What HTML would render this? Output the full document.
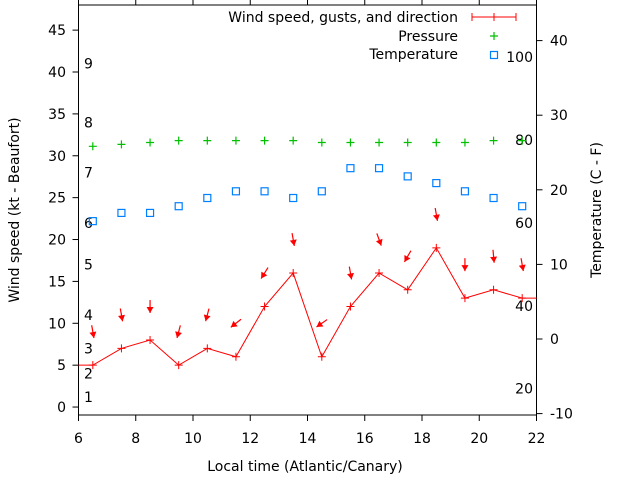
<!DOCTYPE html>
<html><head><meta charset="utf-8"><style>
body{margin:0;background:#fff}
svg text{font-family:"DejaVu Sans","Liberation Sans",sans-serif;font-size:14px;fill:#000}
</style></head><body>
<svg id="c" width="640" height="480" xmlns="http://www.w3.org/2000/svg"></svg>
<script>
const hours=[6.5,7.5,8.5,9.5,10.5,11.5,12.5,13.5,14.5,15.5,16.5,17.5,18.5,19.5,20.5,21.5];
const windSpeed=[5,7,8,5,7,6,12,16,6,12,16,14,19,13,14,13];
const windStart=5, windEnd=13;
const gusts=[9,11,12,9,11,10,16,20,10,16,20,18,23,17,18,17];
const windDir=[350,350,0,15,15,52,32,350,55,350,340,30,350,0,355,350];
const pressure=[1017,1018,1019,1020,1020,1020,1020,1020,1019,1019,1019,1019,1019,1019,1020,1020];
const temperature=[15.8,16.9,16.9,17.8,18.9,19.8,19.8,18.9,19.8,22.9,22.9,21.8,20.9,19.8,18.9,17.8];
const xTicks=[6,8,10,12,14,16,18,20,22];
const yLeftTicks=[0,5,10,15,20,25,30,35,40,45];
const yRightTicks=[-10,0,10,20,30,40];
const beaufortLabels=[[1,1.2],[2,4],[3,7],[4,11],[5,17],[6,22],[7,28],[8,34],[9,41]];
const fahrenheitLabels=[20,40,60,80,100];

const L=78.5,R=536.5,T=5,B=415;
const X=v=>L+(v-6)/(22-6)*(R-L);
const YL=v=>B-(v+0.95)/(48+0.95)*(B-T);
const YR=v=>339-v*7.46;
const YP=p=>146.3-(p-1017)*1.9;
const svg=document.getElementById('c');
const NS='http://www.w3.org/2000/svg';
function mk(tag,attrs,parent){const e=document.createElementNS(NS,tag);for(const k in attrs)e.setAttribute(k,attrs[k]);(parent||svg).appendChild(e);return e;}
function txt(s,x,y,anchor,name,extra){const t=mk('text',Object.assign({x:x,y:y,'text-anchor':anchor},extra||{}));t.textContent=s;


return t;}

const fr=mk('rect',{x:L,y:T,width:R-L,height:B-T,fill:'none',stroke:'#000','stroke-width':1});



xTicks.forEach(v=>{const x=X(v);
 const t=mk('line',{x1:x,x2:x,y1:B,y2:B+6,stroke:'#000'});
 
 
 const t2=mk('line',{x1:x,x2:x,y1:T,y2:T-5,stroke:'#000'});
 
 
 txt(String(v),x,443,'middle','x-tick-label');});
yLeftTicks.forEach(v=>{const y=YL(v);
 const t=mk('line',{x1:L-6,x2:L,y1:y,y2:y,stroke:'#000'});
 
 
 txt(String(v),66,y+5,'end','y-left-tick-label');});
yRightTicks.forEach(v=>{const y=YR(v);
 const t=mk('line',{x1:R,x2:R+6,y1:y,y2:y,stroke:'#000'});
 
 
 txt(String(v),550,y+5,'start','y-right-tick-label');});
beaufortLabels.forEach(b=>txt(String(b[0]),84,YL(b[1])+5,'start','beaufort-label'));
fahrenheitLabels.forEach(f=>txt(String(f),533,YR((f-32)*5/9)+5,'end','fahrenheit-label'));

txt('Local time (Atlantic/Canary)',305,471,'middle','x-axis-title');
txt('Wind speed (kt - Beaufort)',19,210,'middle','y-left-axis-title',{transform:'rotate(-90 19 210)'});
txt('Temperature (C - F)',601,210,'middle','y-right-axis-title',{transform:'rotate(-90 601 210)'});

let pts=[[X(6),YL(windStart)]];hours.forEach((h,i)=>pts.push([X(h),YL(windSpeed[i])]));pts.push([X(22),YL(windEnd)]);
const pl=mk('polyline',{points:pts.map(p=>p.join(',')).join(' '),fill:'none',stroke:'#f00','stroke-width':1});


hours.forEach((h,i)=>{const x=X(h),y=YL(windSpeed[i]);
 const p=mk('path',{d:`M${x-4},${y}H${x+4}M${x},${y-4}V${y+4}`,stroke:'#f00','stroke-width':1});
 
 });
hours.forEach((h,i)=>{const cx=X(h),cy=YL(gusts[i]);const a=windDir[i]*Math.PI/180;
 const dx=-Math.sin(a)*13,dy=Math.cos(a)*13;
 const x1=cx-dx/2,y1=cy-dy/2,x2=cx+dx/2,y2=cy+dy/2;
 const ux=dx/13,uy=dy/13;const hx=x2-ux*6,hy=y2-uy*6;
 const g=mk('g',{});
 
 
 mk('line',{x1:x1,y1:y1,x2:x2,y2:y2,stroke:'#f00','stroke-width':1.2},g);
 mk('polygon',{points:`${x2},${y2} ${hx-uy*3.5},${hy+ux*3.5} ${hx+uy*3.5},${hy-ux*3.5}`,fill:'#f00'},g);});
hours.forEach((h,i)=>{const x=X(h),y=YP(pressure[i]);
 const p=mk('path',{d:`M${x-4},${y}H${x+4}M${x},${y-4}V${y+4}`,stroke:'#00c000','stroke-width':1.2});
 
 });
hours.forEach((h,i)=>{const x=X(h),y=YR(temperature[i]);
 const r=mk('rect',{x:x-3.5,y:y-3.5,width:7,height:7,fill:'none',stroke:'#0080ff','stroke-width':1.2});
 
 });
const lg=mk('g',{});


txt('Wind speed, gusts, and direction',458,22,'end','legend-wind-label');
const ls=mk('path',{d:'M472,17H516M472,13V21M516,13V21M494,13V21',stroke:'#f00','stroke-width':1},lg);


txt('Pressure',458,41,'end','legend-pressure-label');
const ps=mk('path',{d:'M490,36H498M494,32V40',stroke:'#00c000','stroke-width':1.2},lg);


txt('Temperature',458,59,'end','legend-temperature-label');
const ts=mk('rect',{x:490.5,y:51.5,width:7,height:7,fill:'none',stroke:'#0080ff','stroke-width':1.2},lg);


</script>
</body></html>
